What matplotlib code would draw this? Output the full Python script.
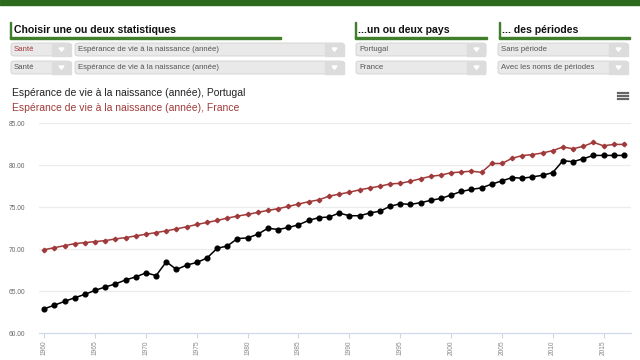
import matplotlib.pyplot as plt
from matplotlib.patches import Rectangle, FancyBboxPatch, Polygon
from matplotlib.lines import Line2D

plt.rcParams['font.family'] = ['Liberation Sans', 'DejaVu Sans']

years = list(range(1960, 2018))
portugal = [62.88, 63.32, 63.76, 64.20, 64.60, 65.08, 65.48, 65.84, 66.32, 66.68,
            67.16, 66.84, 68.48, 67.56, 68.08, 68.40, 68.92, 70.08, 70.36, 71.24,
            71.32, 71.76, 72.48, 72.32, 72.56, 72.88, 73.40, 73.74, 73.80, 74.28,
            73.96, 73.96, 74.28, 74.50, 75.08, 75.39, 75.31, 75.51, 75.79, 76.02,
            76.42, 76.85, 77.09, 77.28, 77.72, 78.11, 78.50, 78.43, 78.58, 78.78,
            79.09, 80.51, 80.39, 80.75, 81.14, 81.14, 81.14, 81.14]
france = [69.92, 70.16, 70.40, 70.64, 70.76, 70.88, 71.00, 71.20, 71.36, 71.56,
          71.76, 71.96, 72.16, 72.40, 72.64, 72.92, 73.16, 73.40, 73.68, 73.92,
          74.12, 74.36, 74.60, 74.80, 75.07, 75.35, 75.63, 75.85, 76.29, 76.53,
          76.76, 77.04, 77.27, 77.47, 77.75, 77.82, 78.06, 78.37, 78.65, 78.80,
          79.08, 79.16, 79.27, 79.12, 80.18, 80.18, 80.80, 81.12, 81.24, 81.43,
          81.71, 82.14, 81.94, 82.22, 82.69, 82.29, 82.45, 82.45]
yticks = [60, 65, 70, 75, 80, 85]
xticks = list(range(1960, 2016, 5))

W, H = 640, 360
fig = plt.figure(figsize=(6.4, 3.6), dpi=100)


def fx(x):
    return x / W


def fy(y):
    return 1 - y / H


def rect(x0, y0, x1, y1, color, **kw):
    fig.patches.append(Rectangle((fx(x0), fy(y1)), fx(x1) - fx(x0), fy(y0) - fy(y1),
                                 transform=fig.transFigure, color=color, **kw))


# green banner on top
rect(0, 0, 640, 5, '#2c6a1d')

# section headers
green = '#3f7f2c'
sections = [(10, 281, 'Choisir une ou deux statistiques'),
            (355, 487, '...un ou deux pays'),
            (499, 630, '... des périodes')]
for x0, x1, label in sections:
    rect(x0, 22, x0 + 1, 38, green)
    rect(x0, 36.5, x1, 38.5, green)
    fig.text(fx(x0 + 3.5), fy(30), label, fontsize=7.6, fontweight='bold',
             va='center', ha='left', color='#111111')

# drop-down boxes
def dropdown(x0, x1, y0, text, tcolor='#555555'):
    y1 = y0 + 13
    fig.patches.append(FancyBboxPatch((fx(x0), fy(y1)), fx(x1) - fx(x0), fy(y0) - fy(y1),
                                      boxstyle='round,pad=0,rounding_size=0.006',
                                      transform=fig.transFigure, fc='#e9e9e9',
                                      ec='#d0d0d0', lw=0.6))
    rect(x1 - 19, y0 + 0.5, x1 - 0.5, y1 - 0.5, '#dcdcdc')
    cx, cy = x1 - 9.5, y0 + 6.5
    fig.patches.append(Polygon([(fx(cx - 2.5), fy(cy - 1.5)), (fx(cx + 2.5), fy(cy - 1.5)),
                                (fx(cx), fy(cy + 1.8))], closed=True,
                               transform=fig.transFigure, color='white'))
    fig.text(fx(x0 + 3), fy(y0 + 6.8), text, fontsize=5.6, color=tcolor,
             va='center', ha='left')


for row, y0 in enumerate([43, 61]):
    dropdown(11, 71, y0, 'Santé', '#a33a3a' if row == 0 else '#555555')
    dropdown(75, 344, y0, 'Espérance de vie à la naissance (année)')
dropdown(356, 486, 43, 'Portugal')
dropdown(356, 486, 61, 'France')
dropdown(498, 628, 43, 'Sans période')
dropdown(498, 628, 61, 'Avec les noms de périodes')

# chart titles
fig.text(fx(12), fy(93), 'Espérance de vie à la naissance (année), Portugal',
         fontsize=7.5, color='#222222', va='center', ha='left')
fig.text(fx(12), fy(108), 'Espérance de vie à la naissance (année), France',
         fontsize=7.5, color='#a03a3a', va='center', ha='left')

# hamburger menu
for yy in (92.5, 95.5, 98.5):
    fig.lines.append(Line2D([fx(618), fx(628)], [fy(yy), fy(yy)], lw=1.6,
                            color='#666666', transform=fig.transFigure))

# chart
ax = fig.add_axes([fx(39), fy(333), fx(631) - fx(39), fy(123) - fy(333)])
ax.plot(years, france, color='#a03a3a', lw=1.1, marker='D', ms=2.3, zorder=3)
ax.plot(years, portugal, color='black', lw=1.1, marker='o', ms=3.4, zorder=4)

ax.set_xlim(1959.48, 2017.7)
ax.set_ylim(60, 85)
ax.set_yticks(yticks)
ax.set_yticklabels([f'{v:.2f}' for v in yticks])
ax.set_xticks(xticks)
ax.set_xticklabels([str(v) for v in xticks], rotation=90)
for v in yticks[1:]:
    ax.axhline(v, color='#ececec', lw=0.9, zorder=1)
for s in ['top', 'right', 'left']:
    ax.spines[s].set_visible(False)
ax.spines['bottom'].set_color('#ccd6eb')
ax.spines['bottom'].set_linewidth(0.8)
ax.tick_params(axis='y', length=0, labelsize=4.8, labelcolor='#666666', pad=10)
ax.tick_params(axis='x', length=3.5, color='#ccd6eb', labelsize=4.8,
               labelcolor='#888888', pad=2)

fig.savefig('out.png', dpi=100)
